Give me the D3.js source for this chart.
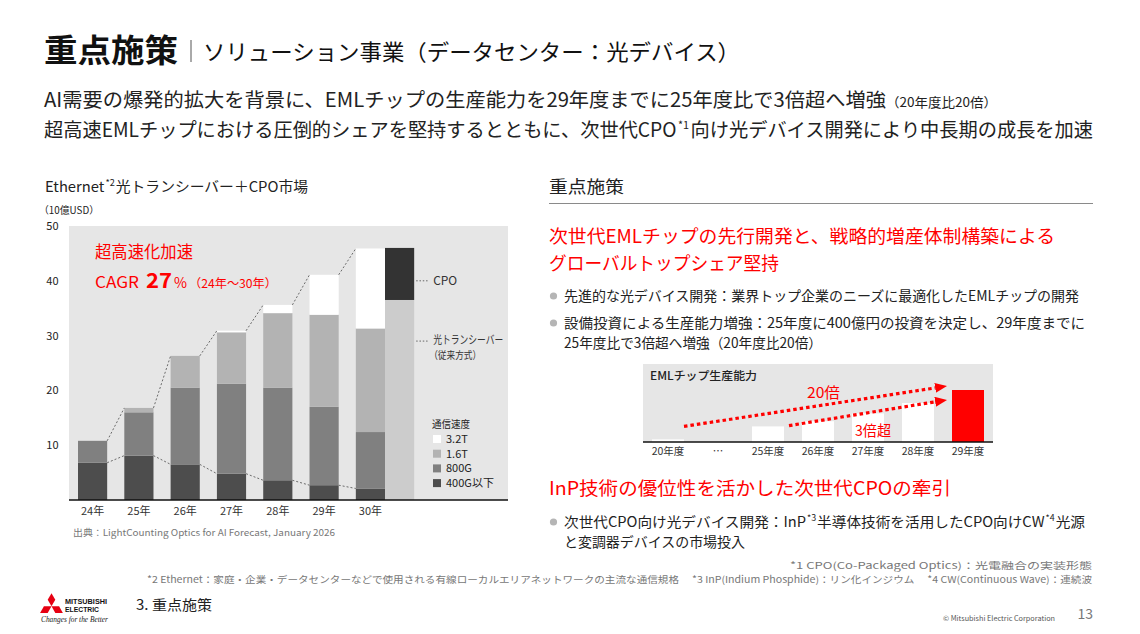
<!DOCTYPE html>
<html>
<head>
<meta charset="utf-8">
<script src="https://cdn.jsdelivr.net/npm/d3@7"></script>
<style>
  body { margin: 0; background: #fff; }
  svg text { font-family: "Noto Sans CJK JP", "Noto Sans", sans-serif; }
</style>
</head>
<body>
<script>
// market chart (10億USD)
const years = ['24年', '25年', '26年', '27年', '28年', '29年', '30年'];
const speeds = ['400G以下', '800G', '1.6T', '3.2T'];
const g400 = [6.8, 8.1, 6.5, 4.8, 3.6, 2.7, 2.1];
const g800 = [4.0, 7.9, 14.0, 16.4, 16.9, 14.3, 10.3];
const t16 = [0, 0.8, 5.8, 9.4, 13.6, 16.8, 18.9];
const t32 = [0, 0, 0, 0.3, 1.5, 7.3, 14.6];
const split30Keys = ['transceiver', 'CPO'];
const split30Values = [36.5, 9.5];
const yTicks = [10, 20, 30, 40, 50];

// EML chip capacity (relative, 20年度 = 1)
const emlYears = ['20年度', '…', '25年度', '26年度', '27年度', '28年度', '29年度'];
const emlCapacity = [1, null, 6, 8, 11, 15, 20];

const W = 1140, H = 634;
const RED = '#ff0000';

const svg = d3.select('body').append('svg')
    .attr('width', W)
    .attr('height', H);

const defs = svg.append('defs');
defs.append('marker')
    .attr('id', 'arrowRed')
    .attr('viewBox', '0 0 12 10')
    .attr('refX', 0)
    .attr('refY', 5)
    .attr('markerWidth', 12)
    .attr('markerHeight', 10)
    .attr('markerUnits', 'userSpaceOnUse')
    .attr('orient', 'auto')
  .append('path')
    .attr('d', 'M0,0L12,5L0,10Z')
    .attr('fill', RED);

function label(parent, txt, x, y, size, opts = {}) {
    const t = parent.append('text')
        .attr('x', x)
        .attr('y', y)
        .style('font-size', size + 'px')
        .attr('fill', opts.fill || '#222')
        .text(txt);
    if (opts.len) t.attr('textLength', opts.len).attr('lengthAdjust', 'spacingAndGlyphs');
    if (opts.weight) t.style('font-weight', opts.weight);
    if (opts.anchor) t.attr('text-anchor', opts.anchor);
    if (opts.italic) t.style('font-style', 'italic');
    if (opts.family) t.style('font-family', opts.family);
    return t;
}

// one text made of several runs (superscripts etc), stretched to a total width
function richLine(parent, parts, x0, yBase, total, fill) {
    const t = parent.append('text').attr('fill', fill || '#222');
    const spans = parts.map(p => t.append('tspan')
        .attr('y', yBase + (p.dy || 0))
        .style('font-size', p.size + 'px')
        .text(p.t));
    const widths = spans.map((n, i) => n.node().getComputedTextLength() + (parts[i].gap || 0) * 2);
    const k = total / d3.sum(widths);
    let cx = x0;
    spans.forEach((n, i) => {
        const g = (parts[i].gap || 0) * k;
        const w = widths[i] * k;
        n.attr('x', cx + g)
            .attr('textLength', w - 2 * g)
            .attr('lengthAdjust', 'spacingAndGlyphs');
        cx += w;
    });
    return t;
}

// ---- header
label(svg, '重点施策', 44, 62, 32, { weight: 'bold', len: 134, fill: '#111' });
svg.append('line')
    .attr('x1', 191).attr('x2', 191)
    .attr('y1', 40).attr('y2', 62)
    .attr('stroke', '#555');
label(svg, 'ソリューション事業（データセンター：光デバイス）', 203, 60, 22, { len: 537, fill: '#111' });

richLine(svg, [
    { t: 'AI需要の爆発的拡大を背景に、EMLチップの生産能力を29年度までに25年度比で3倍超へ増強', size: 19.5 },
    { t: '（20年度比20倍）', size: 13 }
], 44, 107, 953);
richLine(svg, [
    { t: '超高速EMLチップにおける圧倒的シェアを堅持するとともに、次世代CPO', size: 19.5 },
    { t: '*1', size: 11, dy: -8, gap: 1.5 },
    { t: '向け光デバイス開発により中長期の成長を加速', size: 19.5 }
], 44, 137, 1049);

// ---- left chart
const chart = svg.append('g');

richLine(chart, [
    { t: 'Ethernet', size: 14.5 },
    { t: '*2', size: 9, dy: -6, gap: 1 },
    { t: '光トランシーバー＋CPO市場', size: 14.5 }
], 45, 192, 263);
label(chart, '（10億USD）', 39, 214, 10, { len: 60 });

const x = d3.scaleBand()
    .domain(years)
    .range([78, 385])
    .paddingInner(0.37)
    .paddingOuter(0);

const y = d3.scaleLinear()
    .domain([0, 50])
    .range([500, 226]);

const speedColor = d3.scaleOrdinal()
    .domain(speeds)
    .range(['#4d4d4d', '#808080', '#b3b3b3', '#ffffff']);

const splitColor = d3.scaleOrdinal()
    .domain(split30Keys)
    .range(['#cccccc', '#333333']);

chart.append('rect')
    .attr('x', 69)
    .attr('y', y(50))
    .attr('width', 439)
    .attr('height', y(0) - y(50))
    .attr('fill', '#e6e6e6');

const rows = years.map((yr, i) => ({
    year: yr,
    '400G以下': g400[i],
    '800G': g800[i],
    '1.6T': t16[i],
    '3.2T': t32[i]
}));
const stacked = d3.stack().keys(speeds)(rows);
const totals = rows.map(r => d3.sum(speeds, k => r[k]));

chart.selectAll('.layer')
    .data(stacked)
    .join('g')
    .attr('class', 'layer')
    .attr('fill', d => speedColor(d.key))
  .selectAll('rect')
    .data(d => d.filter(s => s[1] > s[0]))
    .join('rect')
    .attr('x', d => x(d.data.year))
    .attr('y', d => y(d[1]))
    .attr('width', x.bandwidth())
    .attr('height', d => y(d[0]) - y(d[1]));

// 30年 split: transceiver vs CPO
let acc = 0;
const splitStack = split30Keys.map((k, i) => {
    const s = { key: k, y0: acc, y1: acc + split30Values[i] };
    acc = s.y1;
    return s;
});
const splitX = x('30年') + x.bandwidth();
chart.selectAll('.split')
    .data(splitStack)
    .join('rect')
    .attr('class', 'split')
    .attr('x', splitX)
    .attr('y', d => y(d.y1))
    .attr('width', x.bandwidth())
    .attr('height', d => y(d.y0) - y(d.y1))
    .attr('fill', d => splitColor(d.key));

// dashed connectors between bars
const connect = (vals) => d3.pairs(d3.range(years.length)).map(([a, b]) => ({
    x1: x(years[a]) + x.bandwidth(), y1: y(vals[a]),
    x2: x(years[b]), y2: y(vals[b])
}));
chart.selectAll('.conn')
    .data(connect(totals).concat(connect(g400)))
    .join('line')
    .attr('class', 'conn')
    .attr('x1', d => d.x1).attr('y1', d => d.y1)
    .attr('x2', d => d.x2).attr('y2', d => d.y2)
    .attr('stroke', '#6b6b6b')
    .attr('stroke-width', 1)
    .attr('stroke-dasharray', '2,2');

// axes
chart.append('line')
    .attr('x1', 69).attr('x2', 508)
    .attr('y1', y(0)).attr('y2', y(0))
    .attr('stroke', '#111')
    .attr('stroke-width', 1.5);

const yAxis = chart.append('g')
    .attr('transform', 'translate(58.5,0)')
    .call(d3.axisLeft(y).tickValues(yTicks).tickSize(0).tickPadding(0));
yAxis.select('.domain').remove();
yAxis.selectAll('text')
    .style('font-size', '11px')
    .attr('fill', '#222');

const xAxis = chart.append('g')
    .attr('transform', `translate(0,${y(0)})`)
    .call(d3.axisBottom(x).tickSize(0).tickPadding(7));
xAxis.select('.domain').remove();
xAxis.selectAll('text')
    .style('font-size', '11px')
    .attr('fill', '#333');

// side annotations
const annX = splitX + x.bandwidth();
[y(40), y(29)].forEach(ay => {
    chart.append('line')
        .attr('x1', annX + 2).attr('x2', annX + 15)
        .attr('y1', ay).attr('y2', ay)
        .attr('stroke', '#666')
        .attr('stroke-dasharray', '1.5,1.8');
});
label(chart, 'CPO', annX + 19, y(40) + 4, 11.5, { fill: '#333', len: 24 });
label(chart, '光トランシーバー', annX + 19, y(29) + 2.5, 11.5, { fill: '#333', len: 70 });
label(chart, '（従来方式）', annX + 15, y(29) + 18, 10.5, { fill: '#333', len: 52 });

// legend
const legend = chart.append('g').attr('transform', 'translate(433,424)');
label(legend, '通信速度', -1, 4, 10, { fill: '#222', len: 38 });
legend.selectAll('.item')
    .data(speeds.slice().reverse())
    .join('g')
    .attr('class', 'item')
    .attr('transform', (d, i) => `translate(0,${15 + i * 14.7})`)
    .each(function (d) {
        const g = d3.select(this);
        g.append('rect')
            .attr('x', 0).attr('y', -4)
            .attr('width', 8).attr('height', 8)
            .attr('fill', speedColor(d));
        label(g, d, 13, 4, 11, { fill: '#222' });
    });

// CAGR callout
label(chart, '超高速化加速', 95, 258, 16.5, { fill: RED, len: 98 });
label(chart, 'CAGR', 95, 288, 16, { fill: RED, len: 44 });
label(chart, '27', 146, 288, 21, { fill: RED, weight: 'bold', len: 26 });
label(chart, '%', 174, 288, 15, { fill: RED, len: 13 });
label(chart, '（24年～30年）', 189, 288, 12, { fill: RED, len: 88 });

label(chart, '出典：LightCounting Optics for AI Forecast, January 2026', 73, 536, 9, { fill: '#777', len: 262 });

// ---- right column
const right = svg.append('g');
label(right, '重点施策', 549, 193, 17, { fill: '#222', len: 75 });
right.append('line')
    .attr('x1', 549).attr('x2', 1093)
    .attr('y1', 203.5).attr('y2', 203.5)
    .attr('stroke', '#8a8a8a');

label(right, '次世代EMLチップの先行開発と、戦略的増産体制構築による', 549, 242.5, 18.5, { fill: RED, len: 506 });
label(right, 'グローバルトップシェア堅持', 549, 269.5, 18.5, { fill: RED, len: 230 });

const bullet = (by) => right.append('circle')
    .attr('cx', 553.5).attr('cy', by)
    .attr('r', 3.6)
    .attr('fill', '#b5b5b5');

bullet(296);
label(right, '先進的な光デバイス開発：業界トップ企業のニーズに最適化したEMLチップの開発', 564, 301, 14, { len: 515 });
bullet(323);
label(right, '設備投資による生産能力増強：25年度に400億円の投資を決定し、29年度までに', 564, 328, 14, { len: 521 });
label(right, '25年度比で3倍超へ増強（20年度比20倍）', 564, 348, 14, { len: 258 });

// EML capacity mini chart
const xE = d3.scaleBand()
    .domain(emlYears)
    .range([652, 984])
    .paddingInner(0.36)
    .paddingOuter(0);

const yE = d3.scaleLinear()
    .domain([0, 20])
    .range([442, 390]);

right.append('rect')
    .attr('x', 643).attr('y', 364)
    .attr('width', 350).attr('height', yE(0) - 364)
    .attr('fill', '#e6e6e6');

label(right, 'EMLチップ生産能力', 650, 380, 11.5, { fill: '#222', weight: 500, len: 107 });

const emlRows = emlYears.map((yr, i) => ({ year: yr, value: emlCapacity[i] }))
    .filter(d => d.value != null);

right.selectAll('.eml')
    .data(emlRows)
    .join('rect')
    .attr('class', 'eml')
    .attr('x', d => xE(d.year))
    .attr('y', d => yE(d.value))
    .attr('width', xE.bandwidth())
    .attr('height', d => yE(0) - yE(d.value))
    .attr('fill', d => d.year === '29年度' ? RED : '#ffffff');

right.append('line')
    .attr('x1', 643).attr('x2', 993)
    .attr('y1', yE(0)).attr('y2', yE(0))
    .attr('stroke', '#111')
    .attr('stroke-width', 1.5);

const xEAxis = right.append('g')
    .attr('transform', `translate(0,${yE(0)})`)
    .call(d3.axisBottom(xE).tickSize(0).tickPadding(6));
xEAxis.select('.domain').remove();
xEAxis.selectAll('text')
    .style('font-size', '10.5px')
    .attr('fill', '#333');

const arrows = [
    { from: [xE('20年度') + xE.bandwidth(), yE(6)], to: [xE('29年度') - 5, yE(21.5)] },
    { from: [xE('25年度') + xE.bandwidth() + 5, yE(6.3)], to: [xE('29年度') - 5, yE(16.2)] }
];
right.selectAll('.arrow')
    .data(arrows)
    .join('line')
    .attr('class', 'arrow')
    .each(function (d) {
        const dx = d.to[0] - d.from[0], dy = d.to[1] - d.from[1];
        const len = Math.hypot(dx, dy);
        d3.select(this)
            .attr('x1', d.from[0]).attr('y1', d.from[1])
            .attr('x2', d.to[0] - 12 * dx / len)
            .attr('y2', d.to[1] - 12 * dy / len);
    })
    .attr('stroke', RED)
    .attr('stroke-width', 3.2)
    .attr('stroke-dasharray', '3.5,3')
    .attr('marker-end', 'url(#arrowRed)');

label(right, '20倍', 807, 398, 15, { fill: RED, len: 33 });
label(right, '3倍超', 855, 436, 14.5, { fill: RED, len: 36 });

label(right, 'InP技術の優位性を活かした次世代CPOの牽引', 549, 494.5, 18.5, { fill: RED, len: 402 });

bullet(522);
richLine(right, [
    { t: '次世代CPO向け光デバイス開発：InP', size: 14 },
    { t: '*3', size: 8.5, dy: -6, gap: 1 },
    { t: '半導体技術を活用したCPO向けCW', size: 14 },
    { t: '*4', size: 8.5, dy: -6, gap: 1 },
    { t: '光源', size: 14 }
], 564, 527, 521);
label(right, 'と変調器デバイスの市場投入', 564, 547, 14, { len: 181 });

// ---- footnotes
label(svg, '*1 CPO(Co-Packaged Optics)：光電融合の実装形態', 1092, 569, 9.5, { fill: '#777', anchor: 'end', len: 302 });
label(svg, '*2 Ethernet：家庭・企業・データセンターなどで使用される有線ローカルエリアネットワークの主流な通信規格　 *3 InP(Indium Phosphide)：リン化インジウム　 *4 CW(Continuous Wave)：連続波',
    147, 583, 9.5, { fill: '#777', len: 945 });

// ---- footer / logo
const logo = svg.append('g');
const s = 7.6, cx = 51.5, cy = 606.3;
[-90, 30, 150].forEach(a => {
    const r = a * Math.PI / 180;
    const pt = (l, da) => [cx + l * Math.cos(r + da), cy + l * Math.sin(r + da)];
    const pts = [[cx, cy], pt(s, Math.PI / 6), pt(s * Math.sqrt(3), 0), pt(s, -Math.PI / 6)];
    logo.append('path')
        .attr('d', 'M' + pts.map(p => p.join(',')).join('L') + 'Z')
        .attr('fill', '#e60012');
});
label(logo, 'MITSUBISHI', 65, 604, 7.5, { weight: 'bold', fill: '#111', len: 42, family: 'Liberation Sans' });
label(logo, 'ELECTRIC', 65, 611.5, 7.5, { weight: 'bold', fill: '#111', len: 34, family: 'Liberation Sans' });
label(logo, 'Changes for the Better', 41, 622, 7.5, { italic: true, fill: '#222', len: 67, family: 'Liberation Serif' });

label(svg, '3. 重点施策', 136, 610, 14, { fill: '#222', len: 76 });
label(svg, '© Mitsubishi Electric Corporation', 943, 621, 7, { fill: '#555', len: 112 });
label(svg, '13', 1093, 619, 14, { fill: '#777', anchor: 'end' });
</script>
</body>
</html>
